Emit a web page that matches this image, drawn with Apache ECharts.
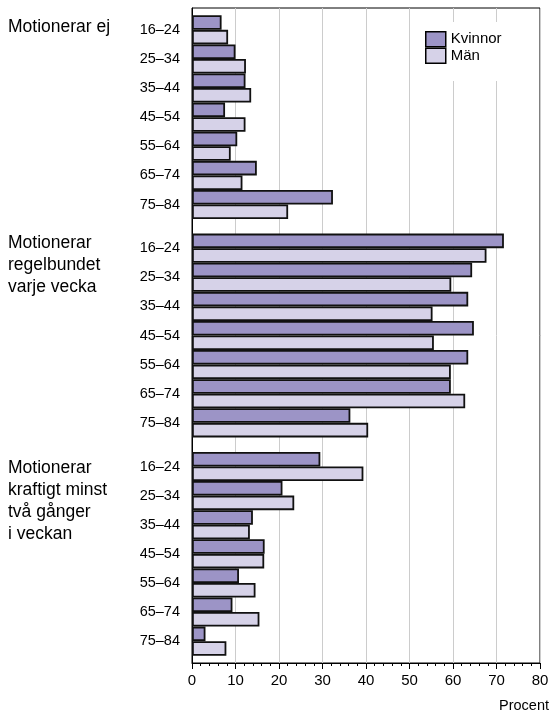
<!DOCTYPE html>
<html>
<head>
<meta charset="utf-8">
<script src="https://cdn.jsdelivr.net/npm/echarts@6/dist/echarts.min.js"></script>
<style>
  html, body { margin: 0; padding: 0; background: #fff; }
  #chart { width: 552px; height: 714px; }
</style>
</head>
<body>
<div id="chart"></div>
<script>
// åldersgrupper och grupper
var ages = ['16–24', '25–34', '35–44', '45–54', '55–64', '65–74', '75–84'];
var groupLabels = ['Motionerar ej', 'Motionerar\nregelbundet\nvarje vecka', 'Motionerar\nkraftigt minst\ntvå gånger\ni veckan'];
var xTicks = [0, 10, 20, 30, 40, 50, 60, 70, 80];

// procent, läst från bilden
var kvinnorEj = [6.8, 10.0, 12.3, 7.6, 10.4, 14.9, 32.4];
var manEj = [8.3, 12.4, 13.6, 12.3, 8.9, 11.6, 22.1];
var kvinnorRegel = [71.7, 64.4, 63.5, 64.8, 63.5, 59.5, 36.4];
var manRegel = [67.7, 59.6, 55.3, 55.6, 59.5, 62.8, 40.5];
var kvinnorKraftig = [29.5, 20.8, 14.0, 16.7, 10.8, 9.3, 3.1];
var manKraftig = [39.4, 23.5, 13.3, 16.6, 14.6, 15.5, 7.9];

var kvinnor = [kvinnorEj, kvinnorRegel, kvinnorKraftig];
var man = [manEj, manRegel, manKraftig];

// 15 halva platser per grupp: tom, (data, tom) x 7
var slots = [], kvData = [], maData = [];
for (var s = 0; s < 45; s++) {
    var g = Math.floor(s / 15), r = s % 15;
    if (r % 2 === 1 && r <= 13) {
        var i = (r - 1) / 2;
        slots.push(ages[i]);
        kvData.push(kvinnor[g][i]);
        maData.push(man[g][i]);
    } else {
        slots.push('');
        kvData.push('-');
        maData.push('-');
    }
}

var colors = ['#9c94c6', '#d6d2e8', '#111111', '#cccccc']; // kvinnor, män, kant, rutnät
var font = 'Liberation Sans, Arial, sans-serif';

var myChart = echarts.init(document.getElementById('chart'));
var option = {
    animation: false,
    grid: {
        left: 192,
        right: 12,
        top: 8,
        bottom: 51,
        show: true,
        borderColor: '#000',
        borderWidth: 1,
        backgroundColor: 'transparent'
    },
    legend: {
        data: ['Kvinnor', 'Män'],
        orient: 'vertical',
        left: 417,
        top: 22,
        itemWidth: 20,
        itemHeight: 15,
        itemGap: 0,
        icon: 'rect',
        backgroundColor: '#fff',
        padding: [9, 12, 17, 8],
        itemStyle: { borderColor: '#000', borderWidth: 1.5 },
        textStyle: { fontFamily: font, fontSize: 15, color: '#000' }
    },
    xAxis: {
        type: 'value',
        min: xTicks[0],
        max: xTicks[xTicks.length - 1],
        interval: 10,
        axisLine: { show: true, lineStyle: { color: '#000', width: 1 } },
        axisTick: { show: true, length: 6, lineStyle: { color: '#000' } },
        minorTick: { show: true, splitNumber: 5, length: 3, lineStyle: { color: '#000' } },
        splitLine: { show: true, lineStyle: { color: colors[3], width: 1 } },
        axisLabel: { color: '#000', fontFamily: font, fontSize: 15, margin: 10 }
    },
    yAxis: {
        type: 'category',
        inverse: true,
        data: slots,
        axisLine: { show: true, lineStyle: { color: '#000', width: 1 } },
        axisTick: { show: false },
        axisLabel: { interval: 0, color: '#000', fontFamily: font, fontSize: 14.5, margin: 12, padding: [5, 0, 0, 0] }
    },
    graphic: [
        { type: 'text', left: 8, top: 16, style: { text: groupLabels[0], font: '17.5px ' + font, lineHeight: 22, fill: '#000' } },
        { type: 'text', left: 8, top: 232, style: { text: groupLabels[1], font: '17.5px ' + font, lineHeight: 22, fill: '#000' } },
        { type: 'text', left: 8, top: 457, style: { text: groupLabels[2], font: '17.5px ' + font, lineHeight: 22, fill: '#000' } },
        { type: 'text', left: 499, top: 698, style: { text: 'Procent', font: '14.5px ' + font, fill: '#000' } }
    ],
    series: [
        {
            name: 'Kvinnor',
            type: 'bar',
            data: kvData,
            barWidth: '100%',
            barGap: '0%',
            itemStyle: { color: colors[0], borderColor: colors[2], borderWidth: 1.8 }
        },
        {
            name: 'Män',
            type: 'bar',
            data: maData,
            barWidth: '100%',
            barGap: '0%',
            itemStyle: { color: colors[1], borderColor: colors[2], borderWidth: 1.8 }
        }
    ]
};
myChart.setOption(option);
</script>
</body>
</html>
